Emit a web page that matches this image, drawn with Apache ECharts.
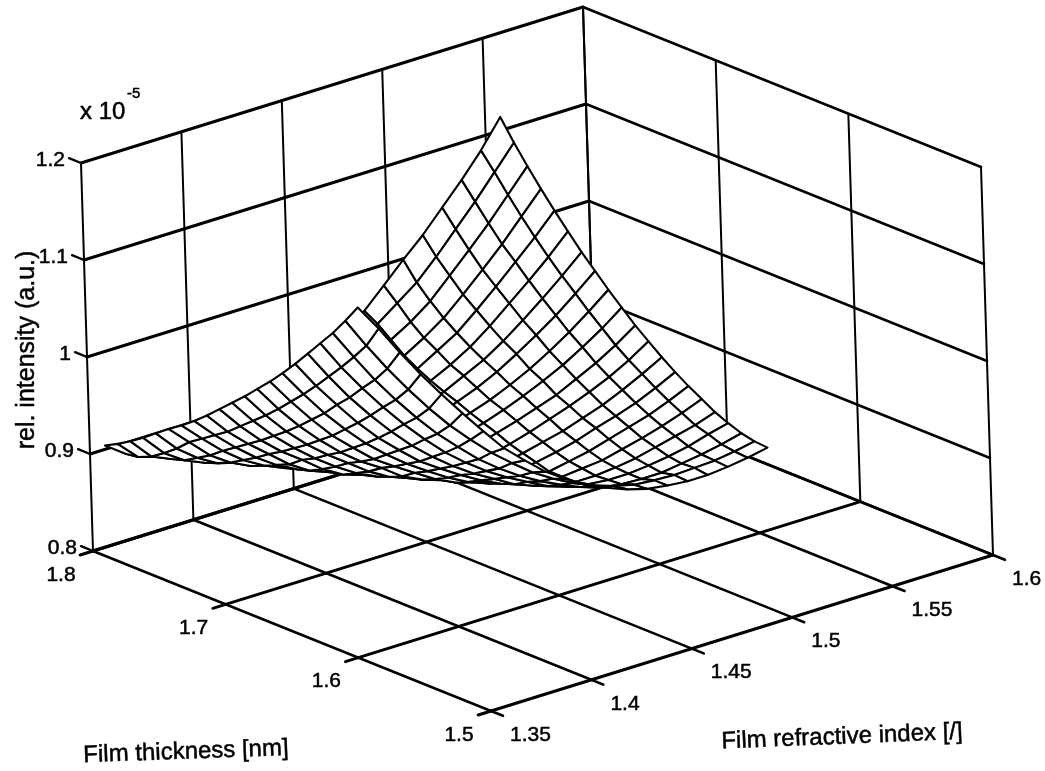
<!DOCTYPE html>
<html><head><meta charset="utf-8">
<style>html,body{margin:0;padding:0;background:#fff}#c{width:1045px;height:771px}</style>
<script src="https://cdn.jsdelivr.net/npm/echarts@6/dist/echarts.min.js"></script>
</head><body><div id="c"></div>
<script>
// Axis ticks
const thicknessTicks = [1.8, 1.7, 1.6, 1.5];
const indexTicks = [1.35, 1.4, 1.45, 1.5, 1.55, 1.6];
const intensityTicks = [0.8, 0.9, 1, 1.1, 1.2];
const thicknessLabels = ['1.8', '1.7', '1.6', '1.5'];
const indexLabels = ['1.35', '1.4', '1.45', '1.5', '1.55', '1.6'];
const intensityLabels = ['0.8', '0.9', '1', '1.1', '1.2'];
// Surface grid
const thicknessGrid = [1.8, 1.7902, 1.7804, 1.7706, 1.7608, 1.751, 1.7411, 1.7313, 1.7215, 1.7117, 1.7019, 1.6921, 1.6823, 1.6725, 1.6627, 1.6529, 1.643, 1.6332, 1.6234, 1.6136, 1.6038];
const indexGrid = [1.3575, 1.3675, 1.3775, 1.3875, 1.3975, 1.4075, 1.4175, 1.4275, 1.4375, 1.4475, 1.4575, 1.4675, 1.4775, 1.4875, 1.4975, 1.5075, 1.5175, 1.5275, 1.5375, 1.5475, 1.5575];
// rel. intensity (x 1e-5): one row per thickness, one column per index
const intensity = [
[.904,.889,.884,.885,.889,.894,.898,.902,.907,.911,.916,.926,.940,.959,.979,.999,1.018,1.040,1.062,1.086,1.114],
[.911,.891,.885,.885,.887,.892,.898,.904,.908,.914,.920,.928,.939,.951,.966,.981,1.001,1.023,1.045,1.069,1.093],
[.919,.897,.888,.882,.882,.885,.890,.895,.901,.906,.912,.918,.928,.940,.952,.967,.987,1.007,1.028,1.051,1.074],
[.928,.906,.892,.883,.880,.881,.885,.888,.892,.898,.904,.910,.918,.929,.941,.955,.973,.992,1.012,1.034,1.056],
[.938,.916,.900,.888,.882,.880,.881,.883,.888,.893,.899,.904,.911,.921,.933,.945,.962,.980,.999,1.018,1.039],
[.948,.928,.908,.894,.884,.880,.879,.880,.884,.887,.893,.899,.906,.914,.924,.936,.951,.968,.985,1.003,1.023],
[.957,.937,.918,.902,.890,.881,.878,.877,.879,.884,.888,.893,.901,.908,.918,.928,.941,.956,.972,.989,1.007],
[.967,.946,.927,.910,.896,.885,.879,.877,.876,.879,.884,.889,.895,.903,.911,.921,.933,.946,.960,.976,.993],
[.978,.955,.936,.919,.902,.889,.881,.876,.875,.876,.878,.884,.890,.897,.904,.913,.923,.935,.948,.963,.979],
[.990,.966,.945,.927,.912,.896,.884,.877,.874,.874,.876,.880,.886,.892,.899,.907,.916,.926,.938,.951,.966],
[1.002,.977,.955,.936,.919,.904,.891,.881,.875,.873,.873,.877,.881,.887,.893,.900,.907,.917,.927,.939,.953],
[1.014,.988,.965,.945,.928,.913,.898,.886,.878,.873,.872,.874,.876,.881,.887,.894,.901,.909,.918,.929,.942],
[1.027,1.000,.976,.955,.936,.920,.907,.892,.882,.875,.872,.871,.873,.877,.882,.887,.894,.901,.910,.920,.931],
[1.040,1.013,.988,.965,.946,.928,.914,.901,.888,.878,.872,.870,.870,.873,.877,.882,.889,.895,.902,.911,.921],
[1.054,1.026,1.000,.977,.956,.938,.922,.908,.895,.884,.876,.871,.869,.869,.873,.877,.883,.889,.895,.903,.912],
[1.069,1.040,1.014,.989,.967,.948,.930,.916,.903,.891,.881,.874,.870,.869,.871,.873,.878,.883,.889,.896,.904],
[1.085,1.055,1.027,1.002,.979,.958,.940,.924,.910,.898,.886,.878,.872,.869,.869,.871,.874,.879,.884,.889,.896],
[1.101,1.070,1.042,1.016,.992,.970,.950,.933,.918,.905,.894,.883,.876,.872,.870,.870,.872,.875,.879,.885,.890],
[1.117,1.086,1.056,1.029,1.004,.981,.961,.942,.926,.912,.900,.890,.881,.874,.871,.870,.870,.873,.876,.880,.885],
[1.135,1.103,1.073,1.045,1.019,.995,.974,.954,.937,.921,.908,.897,.888,.881,.876,.874,.873,.874,.875,.878,.882],
[1.154,1.126,1.095,1.066,1.039,1.013,.988,.964,.945,.927,.913,.901,.891,.883,.877,.874,.872,.872,.874,.877,.881]
];
const texts = {thickness: 'Film thickness [nm]', index: 'Film refractive index [/]', value: 'rel. intensity (a.u.)', mult: 'x 10', exp: '-5'};

// Camera: page position of the box corner and of its three edges
const T0 = 1.8, T1 = 1.5, N0 = 1.35, N1 = 1.6, Z0 = 0.8, Z1 = 1.2;
const O = [93, 551], EA = [398, 160], EB = [502, -156], EC = [-12, -388];
function project(t, n, z) {
  const u = (T0 - t) / (T0 - T1), v = (n - N0) / (N1 - N0), w = (z - Z0) / (Z1 - Z0);
  return [O[0] + EA[0]*u + EB[0]*v + EC[0]*w, O[1] + EA[1]*u + EB[1]*v + EC[1]*w];
}
function depth(t, n, z) {
  const u = (T0 - t) / (T0 - T1), v = (n - N0) / (N1 - N0), w = (z - Z0) / (Z1 - Z0);
  return 1.381*u - 1.071*v + w;
}
const TK = 0.03, BOLD = 3, THIN = 2;
// Box lines
const segs = [];
function seg(a, b, w) { segs.push({a, b, w}); }
const dT = (T0 - T1) * TK, dN = (N1 - N0) * TK * 0.85;
intensityTicks.forEach(z => {
  seg([T0 + dT, N0, z], [T0, N0, z], BOLD - 0.6);
  seg([T0, N0, z], [T0, N1, z], BOLD);
  seg([T0, N1, z], [T1, N1, z], BOLD - 0.4);
});
indexTicks.forEach(n => {
  seg([T0, n, Z0], [T0, n, Z1], THIN);
  seg([T0, n, Z0], [T1, n, Z0], BOLD - 0.4);
  seg([T1, n, Z0], [T1 - dT, n, Z0], BOLD - 0.4);
});
thicknessTicks.forEach(t => {
  seg([t, N1, Z0], [t, N1, Z1], THIN);
  seg([t, N0, Z0], [t, N1, Z0], BOLD);
  seg([t, N0 - dN, Z0], [t, N0, Z0], BOLD);
});
// Surface cells, far ones first
const cells = [];
for (let i = 0; i < thicknessGrid.length - 1; i++) for (let j = 0; j < indexGrid.length - 1; j++) {
  const pts = [[i, j], [i + 1, j], [i + 1, j + 1], [i, j + 1]].map(p => [thicknessGrid[p[0]], indexGrid[p[1]], intensity[p[0]][p[1]]]);
  const d = pts.reduce((s, p) => s + depth(p[0], p[1], p[2]), 0) / 4;
  cells.push({pts, d});
}
cells.sort((a, b) => a.d - b.d);
// Tick labels
const labels = [];
intensityTicks.forEach((z, k) => labels.push({p: project(T0, N0, z), dx: -16, dy: -3, text: intensityLabels[k], align: 'right'}));
thicknessTicks.forEach((t, k) => labels.push({p: project(t, N0, Z0), dx: -32, dy: 24, text: thicknessLabels[k], align: 'center'}));
indexTicks.forEach((n, k) => labels.push({p: project(T1, n, Z0), dx: 19, dy: 24, text: indexLabels[k], align: 'left'}));

const FONT = '"Liberation Sans", Arial, sans-serif';
const INK = {fill: '#000', stroke: '#000', lineWidth: 0.5, textVerticalAlign: 'middle'};
const chart = echarts.init(document.getElementById('c'), null, {renderer: 'canvas'});
chart.setOption({
  animation: false,
  backgroundColor: '#fff',
  grid: {left: 0, right: 0, top: 0, bottom: 0},
  xAxis: {type: 'value', min: 0, max: 1045, show: false},
  yAxis: {type: 'value', min: 0, max: 771, inverse: true, show: false},
  tooltip: {show: false},
  series: [
    {type: 'custom', coordinateSystem: 'cartesian2d', silent: true, clip: false, z: 1,
     data: segs.map((s, i) => [i]),
     renderItem(params, api) {
       const s = segs[params.dataIndex];
       const a = api.coord(project(...s.a)), b = api.coord(project(...s.b));
       return {type: 'line', shape: {x1: a[0], y1: a[1], x2: b[0], y2: b[1]}, style: {stroke: '#000', lineWidth: s.w, lineCap: 'round'}};
     }},
    {type: 'custom', coordinateSystem: 'cartesian2d', silent: true, clip: false, z: 2,
     data: cells.map((c, i) => [i]),
     renderItem(params, api) {
       const c = cells[params.dataIndex];
       const points = c.pts.map(p => api.coord(project(p[0], p[1], p[2])));
       return {type: 'polygon', shape: {points}, style: {fill: '#fff', stroke: '#000', lineWidth: 2.1, lineJoin: 'round'}};
     }},
    {type: 'custom', coordinateSystem: 'cartesian2d', silent: true, clip: false, z: 3,
     data: labels.map((l, i) => [i]),
     renderItem(params, api) {
       const l = labels[params.dataIndex];
       const p = api.coord(l.p);
       return {type: 'text', x: p[0] + l.dx, y: p[1] + l.dy, style: {...INK, text: l.text, font: '21px ' + FONT, textAlign: l.align}};
     }}
  ],
  graphic: [
    {type: 'text', x: 186, y: 752, rotation: 0.035, style: {...INK, text: texts.thickness, font: '24px ' + FONT, textAlign: 'center'}},
    {type: 'text', x: 842, y: 737, rotation: 0.04, style: {...INK, text: texts.index, font: '24px ' + FONT, textAlign: 'center'}},
    {type: 'text', x: 27, y: 350, rotation: Math.PI / 2, style: {...INK, text: texts.value, font: '25px ' + FONT, textAlign: 'center'}},
    {type: 'text', x: 80, y: 112, style: {...INK, text: texts.mult, font: '24px ' + FONT, textAlign: 'left'}},
    {type: 'text', x: 127, y: 94, style: {...INK, text: texts.exp, font: '15px ' + FONT, textAlign: 'left'}}
  ]
});
</script></body></html>
